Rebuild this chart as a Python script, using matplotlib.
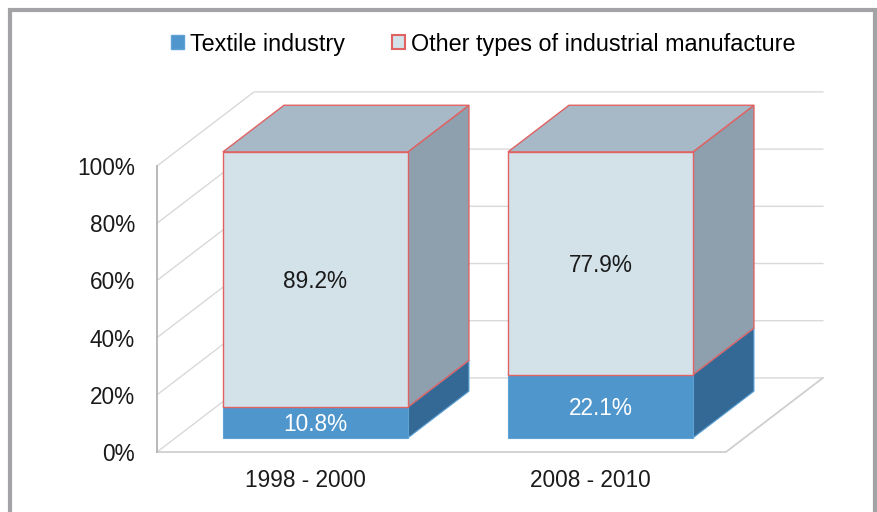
import matplotlib
matplotlib.use("Agg")
import matplotlib.pyplot as plt
from matplotlib.patches import Polygon, Patch, Rectangle

plt.rcParams['font.family'] = ['Liberation Sans', 'DejaVu Sans']

# data
categories = ['1998 - 2000', '2008 - 2010']
textile = [10.8, 22.1]
other = [89.2, 77.9]
series_names = ['Textile industry', 'Other types of industrial manufacture']
y_ticks = [0, 20, 40, 60, 80, 100]

# colours
TEX_FRONT, TEX_SIDE, TEX_TOP, TEX_EDGE = '#4f96cd', '#336994', '#4a86b8', '#5ea3d8'
OTH_FRONT, OTH_SIDE, OTH_TOP, OTH_EDGE = '#d3e1e9', '#8e9fae', '#a7b8c6', '#e06262'
GRID = '#d9d9d9'
FS = 16.3

# 3d geometry (data units)
DX, DY = 0.340, 25.9      # full depth of the floor
F0, F1 = 0.19, 0.82       # bar front / back depth
W = 0.649                 # bar width
FLOOR_L, FLOOR_R = -0.491, 1.505

fig = plt.figure(figsize=(8.77, 5.12), dpi=100)
ax = fig.add_axes([0, 0, 1, 1])
ax.set_xlim(-1.042, 2.035)
ax.set_ylim(-20.98, 158.04)
ax.axis('off')

# frame around the picture
fig.patches.append(Rectangle((9.5 / 877, -0.1), 865 / 877, 1.0 - 10 / 512 + 0.1,
                             transform=fig.transFigure, fill=False,
                             edgecolor='#a3a3a5', linewidth=3.0, zorder=0))

# walls and floor
for v in y_ticks:
    ax.plot([FLOOR_L, FLOOR_L + DX, FLOOR_R + DX], [v, v + DY, v + DY],
            color=GRID, lw=1.0, zorder=1)
ax.plot([FLOOR_L, FLOOR_R, FLOOR_R + DX], [0, 0, DY], color='#cfcfcf', lw=1.3, zorder=1)
ax.plot([FLOOR_L, FLOOR_L], [0, 100], color='#b3b3b3', lw=1.3, zorder=1)


def box(x0, y0, y1, front, side, top, edge, lw, z):
    x1 = x0 + W
    p = lambda x, y, f: (x + f * DX, y + f * DY)
    faces = [
        ([p(x1, y0, F0), p(x1, y0, F1), p(x1, y1, F1), p(x1, y1, F0)], side),
        ([p(x0, y1, F0), p(x1, y1, F0), p(x1, y1, F1), p(x0, y1, F1)], top),
        ([p(x0, y0, F0), p(x1, y0, F0), p(x1, y1, F0), p(x0, y1, F0)], front),
    ]
    for pts, c in faces:
        ax.add_patch(Polygon(pts, closed=True, facecolor=c, edgecolor=edge,
                             linewidth=lw, zorder=z))


for i, (t, o) in enumerate(zip(textile, other)):
    x0 = i - W / 2
    box(x0, 0, t, TEX_FRONT, TEX_SIDE, TEX_TOP, TEX_EDGE, 0.8, 3)
    box(x0, t, t + o, OTH_FRONT, OTH_SIDE, OTH_TOP, OTH_EDGE, 1.0, 4)
    cx = i + F0 * DX
    ax.text(cx, t / 2 + F0 * DY, f'{t}%', ha='center', va='center_baseline',
            fontsize=FS, color='white', zorder=6)
    ax.text(cx, t + o / 2 + F0 * DY, f'{o}%', ha='center', va='center_baseline',
            fontsize=FS, color='#1a1a1a', zorder=6)
    ax.text(i + 0.028, -9.1, categories[i], ha='center', va='center_baseline',
            fontsize=FS, color='#1a1a1a')

for v in y_ticks:
    ax.text(-0.568, v, f'{v}%', ha='right', va='center_baseline', fontsize=FS, color='#1a1a1a')

handles = [Patch(facecolor=TEX_FRONT, edgecolor=TEX_EDGE, linewidth=1.0),
           Patch(facecolor=OTH_FRONT, edgecolor=OTH_EDGE, linewidth=1.5)]
fig.legend(handles, series_names, loc='center', bbox_to_anchor=(0.551, 0.914),
           ncol=2, frameon=False, fontsize=16.8, handlelength=0.56, handleheight=0.56,
           handletextpad=0.22, columnspacing=2.05, borderpad=0)

fig.savefig('out.png', dpi=100)
